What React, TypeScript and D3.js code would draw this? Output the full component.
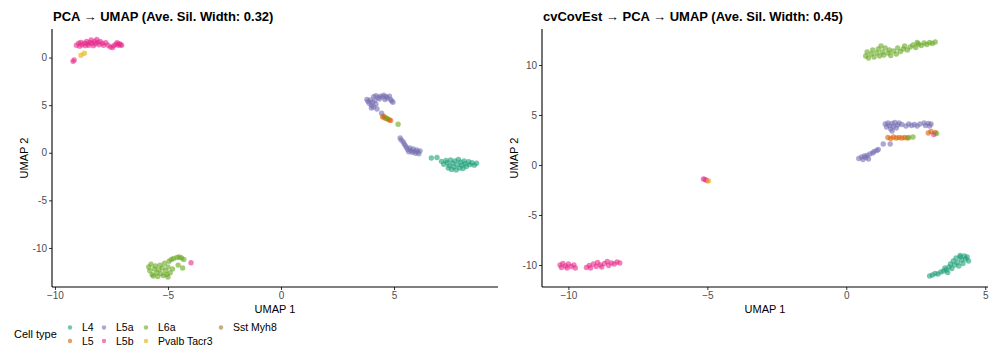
import React, { useEffect, useRef } from "react";
import * as d3 from "d3";

type Pt = [number, number];

const cellTypes = ["L4", "L5", "L5a", "L5b", "L6a", "Pvalb Tacr3", "Sst Myh8"];
const colors = ["#1B9E77", "#D95F02", "#7570B3", "#E7298A", "#66A61E", "#E6AB02", "#A6761D"];

// left panel: PCA -> UMAP
const pcaL4: Pt[] = [[6.65,-0.55],[6.9,-0.5],[7.1,-0.9],[7.2,-1.2],[7.3,-0.8],[7.35,-1.05],[7.45,-1.35],[7.5,-0.75],[7.6,-1.1],[7.65,-1.5],[7.7,-0.85],[7.8,-1.25],[7.85,-0.7],[7.9,-1.6],[7.95,-1.0],[8.0,-1.3],[8.1,-0.85],[8.15,-1.15],[8.2,-1.45],[8.3,-0.95],[8.35,-1.25],[8.45,-1.05],[8.55,-1.3],[8.65,-1.1],[7.55,-1.75],[7.75,-1.8],[8.05,-1.65],[7.4,-1.6]];
const pcaL5: Pt[] = [[4.5,3.75],[4.6,3.65],[4.7,3.55],[4.8,3.45],[4.55,3.85],[4.85,3.4]];
const pcaL5a: Pt[] = [[4.1,5.9],[4.2,6.0],[4.3,5.8],[4.4,5.95],[4.5,5.85],[4.55,6.05],[4.65,5.9],[4.7,5.75],[4.8,5.95],[4.85,5.6],[4.9,5.45],[4.95,5.3],[4.35,5.65],[4.6,5.6],[3.85,5.4],[3.9,5.2],[3.95,5.55],[4.0,5.0],[4.05,5.3],[4.1,4.8],[4.15,5.5],[4.2,5.1],[4.25,4.6],[4.0,4.7],[3.8,5.6],[4.45,4.15],
  [5.27,1.55],[5.32,1.35],[5.4,1.15],[5.45,0.95],[5.5,0.75],[5.55,0.55],[5.6,0.35],[5.7,0.5],[5.75,0.25],[5.8,0.05],[5.85,0.4],[5.9,0.15],[5.95,-0.05],[6.0,0.3],[6.05,0.1],[6.1,-0.1],[5.65,0.1],[6.15,0.2]];
const pcaL5b: Pt[] = [[-9.05,11.3],[-8.95,11.5],[-8.9,11.2],[-8.85,11.6],[-8.8,11.35],[-8.7,11.5],[-8.65,11.25],[-8.6,11.7],[-8.55,11.45],[-8.5,11.3],[-8.45,11.6],[-8.4,11.85],[-8.35,11.5],[-8.3,11.25],[-8.25,11.7],[-8.2,11.45],[-8.15,11.9],[-8.1,11.6],[-8.05,11.35],[-8.0,11.7],[-7.9,11.5],[-7.85,11.3],[-7.75,11.55],[-7.65,11.3],[-7.55,11.1],[-7.45,11.05],[-7.4,11.25],[-7.3,11.4],[-7.25,11.55],[-7.2,11.3],[-7.15,11.45],[-7.1,11.35],[-7.05,11.3],[-9.15,9.75],[-9.2,9.6],[-3.98,-11.55]];
const pcaL6a: Pt[] = [[4.68,3.62],[5.18,3.0],
  [-5.85,-12.0],[-5.8,-12.4],[-5.75,-11.7],[-5.7,-12.8],[-5.6,-12.2],[-5.55,-11.9],[-5.5,-12.6],[-5.45,-13.0],[-5.4,-12.3],[-5.35,-11.8],[-5.3,-12.7],[-5.25,-12.1],[-5.2,-12.9],[-5.15,-11.6],[-5.1,-12.4],[-5.05,-12.8],[-5.0,-12.0],[-4.95,-11.4],[-4.9,-12.6],[-4.85,-11.2],[-4.8,-12.2],[-4.75,-11.1],[-4.6,-11.0],[-4.5,-10.95],[-4.4,-11.05],[-4.3,-11.2],[-4.55,-11.8],[-4.35,-12.1],[-5.65,-12.95],[-5.0,-13.05]];
const pcaPvalb: Pt[] = [[-8.85,10.25],[-8.7,10.45]];
const pcaSst: Pt[] = [];

// right panel: cvCovEst -> PCA -> UMAP
const cvL4: Pt[] = [[3.0,-11.1],[3.1,-11.0],[3.2,-10.85],[3.3,-10.9],[3.4,-10.7],[3.5,-10.6],[3.55,-10.3],[3.6,-10.5],[3.7,-10.2],[3.75,-9.9],[3.8,-10.35],[3.85,-9.6],[3.9,-10.0],[3.95,-9.3],[4.0,-9.75],[4.05,-10.1],[4.1,-9.2],[4.15,-9.5],[4.2,-9.85],[4.25,-9.1],[4.3,-9.4],[4.35,-9.2],[4.4,-9.6],[3.65,-10.75],[4.1,-9.05]];
const cvL5: Pt[] = [[1.5,2.75],[1.6,2.65],[1.7,2.8],[1.8,2.7],[1.9,2.75],[2.0,2.7],[2.1,2.75],[2.2,2.7],[2.95,3.2],[3.05,3.35],[3.2,3.25]];
const cvL5a: Pt[] = [[1.4,4.1],[1.45,3.8],[1.5,4.2],[1.55,3.95],[1.6,3.6],[1.65,4.15],[1.7,3.85],[1.75,4.25],[1.8,3.7],[1.85,4.0],[1.9,4.2],[1.65,3.4],[2.0,4.05],[2.15,3.9],[2.25,4.1],[2.35,3.95],[2.45,4.05],[2.55,3.9],[2.65,4.1],[2.8,4.2],[2.85,3.95],[2.95,4.15],[3.0,3.9],[3.05,4.1],[1.33,2.1],[1.58,2.1],
  [0.45,0.65],[0.55,0.8],[0.6,0.55],[0.7,0.75],[0.75,0.95],[0.8,0.6],[0.85,1.1],[0.95,1.2],[1.0,1.35],[1.1,1.45],[1.15,1.55],[0.65,0.9]];
const cvL5b: Pt[] = [[3.15,3.05],[-5.14,-1.4],[-5.08,-1.45],[-5.02,-1.55],
  [-10.3,-10.0],[-10.25,-10.25],[-10.2,-9.85],[-10.1,-10.1],[-10.05,-10.3],[-10.0,-9.9],[-9.9,-10.15],[-9.8,-10.0],[-9.75,-10.3],[-9.35,-10.25],[-9.25,-10.05],[-9.2,-10.3],[-9.1,-9.9],[-9.0,-10.15],[-8.95,-9.75],[-8.85,-10.0],[-8.8,-10.2],[-8.7,-9.85],[-8.6,-9.65],[-8.55,-10.05],[-8.45,-9.8],[-8.35,-9.9],[-8.25,-9.7],[-8.15,-9.8]];
const cvL6a: Pt[] = [[2.25,2.75],[2.4,2.8],[3.25,3.15],
  [0.7,10.9],[0.75,11.3],[0.8,10.7],[0.9,11.1],[0.95,11.5],[1.0,10.8],[1.1,11.2],[1.15,11.6],[1.2,10.9],[1.3,11.3],[1.35,11.0],[1.4,11.7],[1.5,11.2],[1.55,11.5],[1.6,10.95],[1.7,11.4],[1.8,11.1],[1.85,11.7],[1.95,11.35],[2.05,11.6],[2.1,11.9],[2.2,11.5],[2.3,11.8],[2.4,12.0],[2.5,11.75],[2.6,12.1],[2.7,11.95],[2.8,12.2],[2.9,12.05],[3.0,12.25],[3.1,12.15],[3.2,12.3],[2.55,12.25],[1.25,11.9]];
const cvPvalb: Pt[] = [[-4.96,-1.6]];
const cvSst: Pt[] = [];

const xTicks = [-10, -5, 0, 5];
const yTicks = [-10, -5, 0, 5, 10];
const leftYLabels = ["-10", "-5", "0", "5", "0"];
const rightYLabels = ["-10", "-5", "0", "5", "10"];

const panels = [
  {
    title: "PCA \u2192 UMAP (Ave. Sil. Width: 0.32)",
    groups: [pcaL4, pcaL5, pcaL5a, pcaL5b, pcaL6a, pcaPvalb, pcaSst],
    xDomain: [-10.13, 9.6], yDomain: [-14.1, 13.0],
    x0: 52, x1: 498, yLabels: leftYLabels,
  },
  {
    title: "cvCovEst \u2192 PCA \u2192 UMAP (Ave. Sil. Width: 0.45)",
    groups: [cvL4, cvL5, cvL5a, cvL5b, cvL6a, cvPvalb, cvSst],
    xDomain: [-10.95, 5.1], yDomain: [-12.2, 13.6],
    x0: 542, x1: 988, yLabels: rightYLabels,
  },
];

const App = () => {
  const svgRef = useRef<SVGSVGElement>(null);

  useEffect(() => {
    const svg = d3.select(svgRef.current);
    svg.selectAll("*").remove();
    const top = 29, bottom = 287;

    panels.forEach((p) => {
      const xScale = d3.scaleLinear().domain(p.xDomain).range([p.x0, p.x1]);
      const yScale = d3.scaleLinear().domain(p.yDomain).range([bottom, top]);
      const g = svg.append("g");

      g.append("text").attr("x", p.x0 + 1).attr("y", 21)
        .attr("font-size", 13).attr("font-weight", "bold").attr("fill", "#000")
        .text(p.title);

      const xAxis = d3.axisBottom(xScale).tickValues(xTicks).tickSize(3).tickPadding(2).tickFormat(d3.format("d"));
      const gx = g.append("g").attr("transform", `translate(0,${bottom})`).call(xAxis);
      const yAxis = d3.axisLeft(yScale).tickValues(yTicks).tickSize(3).tickPadding(2)
        .tickFormat((d, i) => p.yLabels[i]);
      const gy = g.append("g").attr("transform", `translate(${p.x0},0)`).call(yAxis);
      [gx, gy].forEach((ax) => {
        ax.select(".domain").remove();
        ax.selectAll("text").attr("font-size", 10).attr("fill", "#4D4D4D").attr("font-family", "Liberation Sans, Arial, sans-serif");
        ax.selectAll("line").attr("stroke", "#333");
      });
      g.append("line").attr("x1", p.x0).attr("x2", p.x1).attr("y1", bottom).attr("y2", bottom).attr("stroke", "#000").attr("stroke-width", 1.1);
      g.append("line").attr("x1", p.x0).attr("x2", p.x0).attr("y1", top).attr("y2", bottom).attr("stroke", "#000").attr("stroke-width", 1.1);

      g.append("text").attr("x", (p.x0 + p.x1) / 2).attr("y", 313).attr("text-anchor", "middle")
        .attr("font-size", 11).text("UMAP 1");
      g.append("text").attr("transform", `translate(${p.x0 - 24},${(top + bottom) / 2}) rotate(-90)`)
        .attr("text-anchor", "middle").attr("font-size", 11).text("UMAP 2");

      p.groups.forEach((pts, gi) => {
        g.append("g").selectAll("circle").data(pts).enter().append("circle")
          .attr("cx", (d) => xScale(d[0])).attr("cy", (d) => yScale(d[1]))
          .attr("r", 2.7).attr("fill", colors[gi]).attr("fill-opacity", 0.6);
      });
    });

    // legend
    const leg = svg.append("g").attr("font-size", 10.5);
    leg.append("text").attr("x", 14).attr("y", 338).attr("font-size", 11).text("Cell type");
    const cols = [70, 104, 146, 221];
    const rows = [327.5, 341];
    cellTypes.forEach((name, i) => {
      const cx = cols[Math.floor(i / 2)];
      const cy = rows[i % 2];
      leg.append("circle").attr("cx", cx).attr("cy", cy).attr("r", 2.2).attr("fill", colors[i]).attr("fill-opacity", 0.6);
      leg.append("text").attr("x", cx + 12).attr("y", cy + 3.5).text(name);
    });
  }, []);

  return (
    <svg ref={svgRef} width={992} height={347}
      style={{ position: "absolute", left: 0, top: 0, fontFamily: "Liberation Sans, Arial, sans-serif", background: "#fff" }} />
  );
};

export default App;
